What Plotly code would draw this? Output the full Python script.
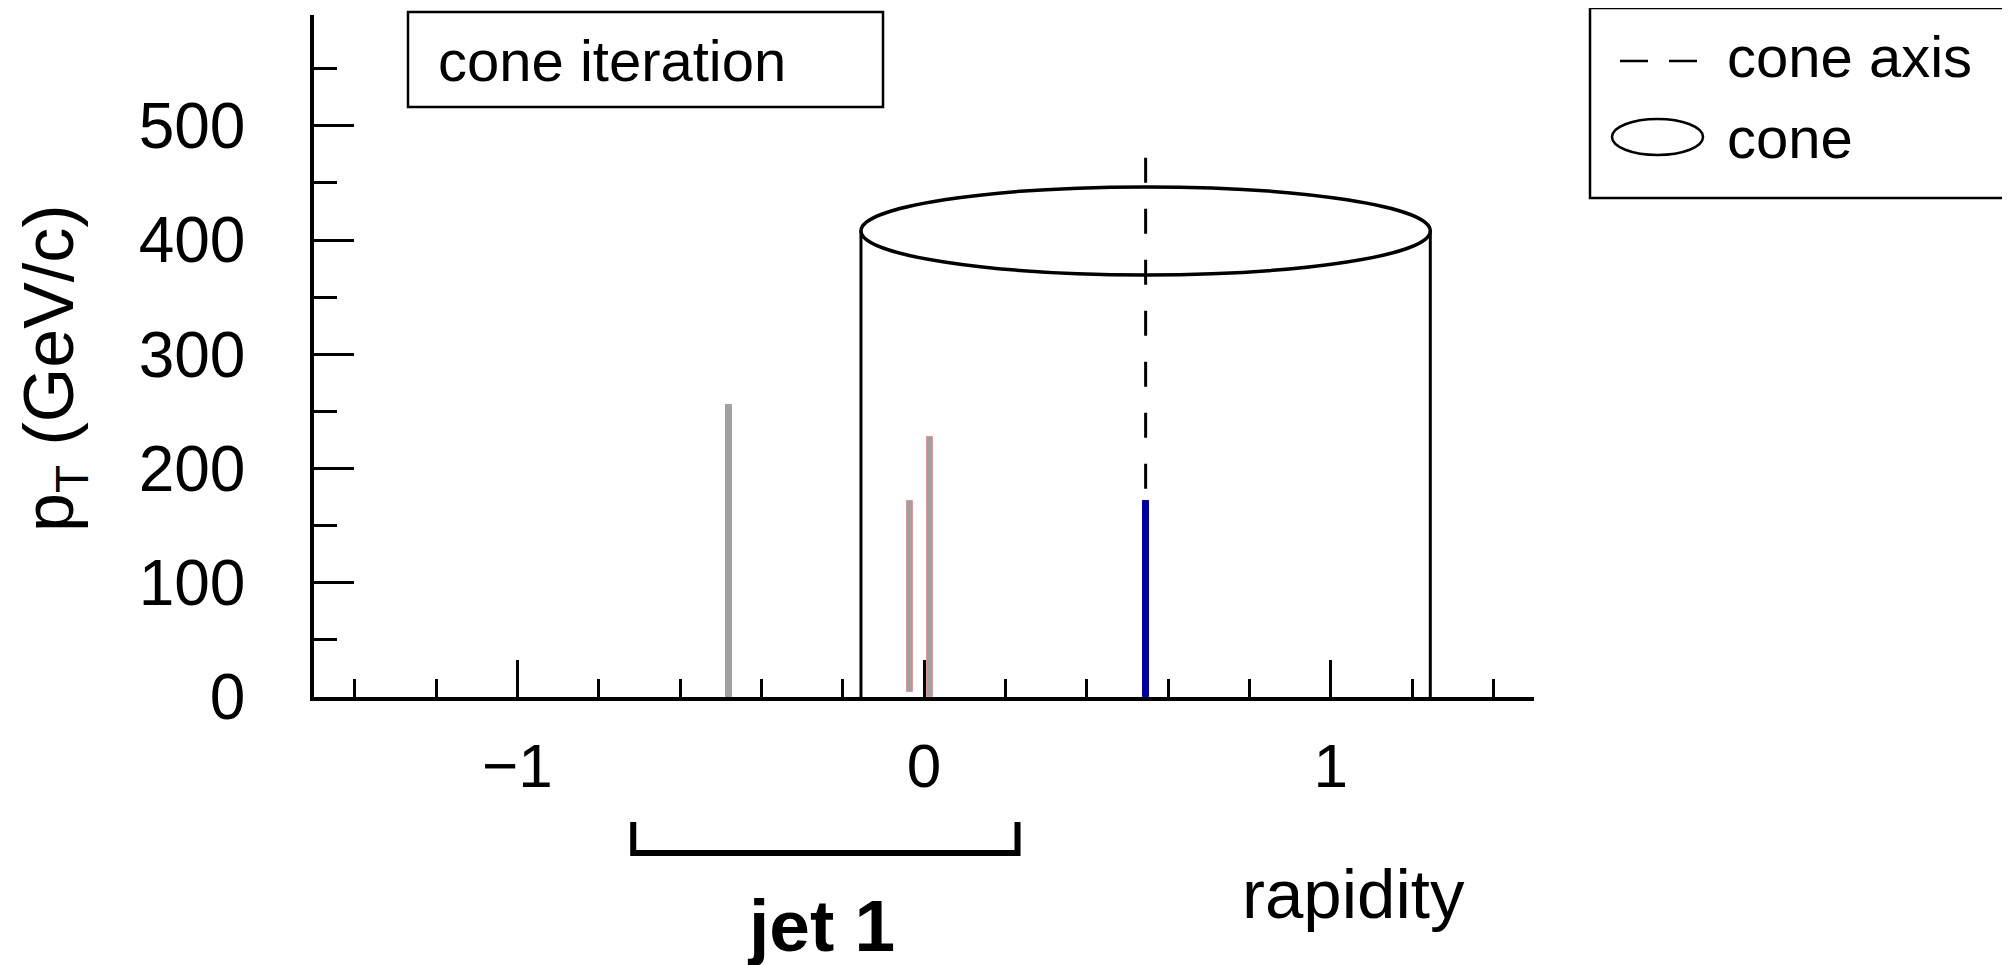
import plotly.graph_objects as go

# ---------------- data ----------------
particle_rapidity = [-0.479, -0.034, 0.015, 0.545]
particle_pt_top = [256, 172, 228, 172]
particle_pt_base = [0, 4, 0, 0]
particle_fill = ["#a0a0a0", "#a0a0a0", "#a0a0a0", "#0000a0"]
particle_edge = ["#a0a0a0", "#d89a9a", "#d89a9a", "#0000a0"]

cone_axis_rapidity = 0.545
cone_radius = 0.7
cone_top_pt = 408
cone_half_height_pt = 38.5
cone_axis_pt = [472, 172]

jet1_range = [-0.715, 0.23]

x_tick_vals = [-1, 0, 1]
x_tick_text = ["\u22121", "0", "1"]
y_tick_vals = [0, 100, 200, 300, 400, 500]
y_tick_text = ["0", "100", "200", "300", "400", "500"]

FONT = "Liberation Sans, Arial, Helvetica, sans-serif"

# layout geometry (pixels); page has an 8px body margin
OFF = 8
W, H = 2010, 965
ML, MT = 306, 7
PW, PH = 1220, 682
MR, MB = W - ML - PW, H - MT - PH


def px(x_page):
    return (x_page - OFF - ML) / PW


def py(y_page):
    return (OFF + MT + PH - y_page) / PH


fig = go.Figure()

# particles
fig.add_trace(go.Bar(
    x=particle_rapidity,
    y=[t - b for t, b in zip(particle_pt_top, particle_pt_base)],
    base=particle_pt_base,
    width=0.0147,
    marker=dict(color=particle_fill, line=dict(color=particle_edge, width=1)),
    showlegend=False,
    hoverinfo="x+y",
))

# cone axis (dashed)
fig.add_trace(go.Scatter(
    x=[cone_axis_rapidity, cone_axis_rapidity],
    y=cone_axis_pt,
    mode="lines",
    line=dict(color="black", width=3, dash="25px,26px"),
    name="cone axis",
    showlegend=False,
))

shapes = []
# cylinder sides
for xs in (cone_axis_rapidity - cone_radius, cone_axis_rapidity + cone_radius):
    shapes.append(dict(type="line", xref="x", yref="y", x0=xs, x1=xs,
                       y0=0, y1=cone_top_pt, line=dict(color="black", width=3)))
# cylinder top ellipse
shapes.append(dict(type="circle", xref="x", yref="y",
                   x0=cone_axis_rapidity - cone_radius, x1=cone_axis_rapidity + cone_radius,
                   y0=cone_top_pt - cone_half_height_pt, y1=cone_top_pt + cone_half_height_pt,
                   line=dict(color="black", width=3.5)))

# "cone iteration" box
shapes.append(dict(type="rect", xref="paper", yref="paper",
                   x0=px(408), x1=px(883), y0=py(107), y1=py(12),
                   line=dict(color="black", width=2.5)))

# legend box
shapes.append(dict(type="rect", xref="paper", yref="paper",
                   x0=px(1590), x1=px(2040), y0=py(198), y1=py(8),
                   line=dict(color="black", width=2.5)))
# legend dashed sample
shapes.append(dict(type="line", xref="paper", yref="paper",
                   x0=px(1620), x1=px(1697), y0=py(61), y1=py(61),
                   line=dict(color="black", width=2.5, dash="28px,21px")))
# legend ellipse sample
shapes.append(dict(type="circle", xref="paper", yref="paper",
                   x0=px(1612), x1=px(1703), y0=py(155), y1=py(119),
                   line=dict(color="black", width=2.5)))

# jet 1 bracket
yt, yb = py(822), py(853)
shapes.append(dict(type="path", xref="x", yref="paper",
                   path=f"M {jet1_range[0]},{yt} L {jet1_range[0]},{yb} L {jet1_range[1]},{yb} L {jet1_range[1]},{yt}",
                   line=dict(color="black", width=6)))

annotations = [
    dict(text="cone iteration", xref="paper", yref="paper", x=px(436), y=py(60),
         xanchor="left", yanchor="middle", showarrow=False,
         font=dict(family=FONT, size=58, color="black")),
    dict(text="cone axis", xref="paper", yref="paper", x=px(1725), y=py(57),
         xanchor="left", yanchor="middle", showarrow=False,
         font=dict(family=FONT, size=58, color="black")),
    dict(text="cone", xref="paper", yref="paper", x=px(1725), y=py(138),
         xanchor="left", yanchor="middle", showarrow=False,
         font=dict(family=FONT, size=58, color="black")),
    dict(text="rapidity", xref="paper", yref="paper", x=px(1240), y=py(894),
         xanchor="left", yanchor="middle", showarrow=False,
         font=dict(family=FONT, size=69, color="black")),
    dict(text="<b>jet 1</b>", xref="x", yref="paper", x=sum(jet1_range) / 2 - 0.012, y=py(925),
         xanchor="center", yanchor="middle", showarrow=False,
         font=dict(family=FONT, size=73, color="black")),
    dict(text="p<sub><span style='font-size:46px'>T</span></sub> (GeV/c)",
         xref="paper", yref="paper", x=px(54), y=py(368),
         xanchor="center", yanchor="middle", textangle=-90, showarrow=False,
         font=dict(family=FONT, size=70, color="black")),
]

fig.update_layout(
    width=W, height=H, autosize=False,
    margin=dict(l=ML, r=MR, t=MT, b=MB, pad=0),
    paper_bgcolor="white", plot_bgcolor="white",
    showlegend=False,
    bargap=0,
    shapes=shapes,
    annotations=annotations,
    font=dict(family=FONT, color="black"),
    xaxis=dict(
        range=[-1.5, 1.5], showgrid=False, zeroline=False,
        showline=True, linecolor="black", linewidth=4,
        ticks="inside", ticklen=37, tickwidth=3, tickcolor="black",
        tickmode="array", tickvals=x_tick_vals, ticktext=x_tick_text,
        tickfont=dict(family=FONT, size=62, color="black"),
        ticklabelstandoff=12,
        minor=dict(ticks="inside", ticklen=18, tickwidth=3, tickcolor="black",
                   dtick=0.2, tick0=0, showgrid=False),
        automargin=False,
    ),
    yaxis=dict(
        range=[0, 597], showgrid=False, zeroline=False,
        showline=True, linecolor="black", linewidth=3.5,
        ticks="inside", ticklen=40, tickwidth=3, tickcolor="black",
        tickmode="array", tickvals=y_tick_vals, ticktext=y_tick_text,
        tickfont=dict(family=FONT, size=64, color="black"),
        ticklabelstandoff=52,
        minor=dict(ticks="inside", ticklen=23, tickwidth=3, tickcolor="black",
                   dtick=50, tick0=0, showgrid=False),
        automargin=False,
    ),
)

fig.write_html("out.html")
